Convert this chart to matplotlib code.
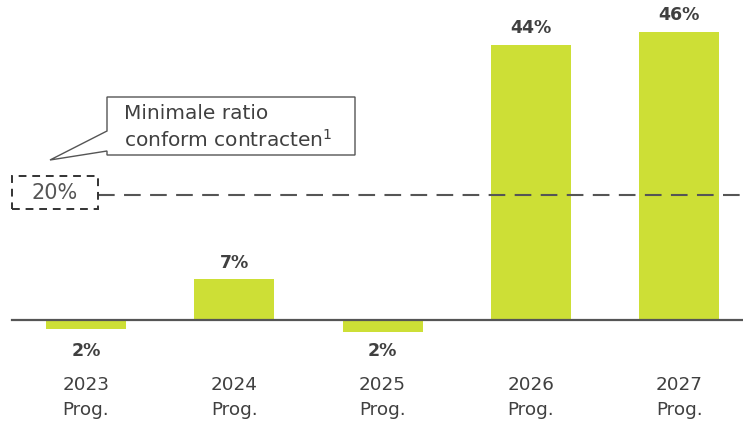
import matplotlib
matplotlib.use("Agg")
import matplotlib.pyplot as plt
from matplotlib.patches import Polygon, Rectangle

plt.rcParams['font.family'] = ['DejaVu Sans']

# Datos
jaren = ["2023\nProg.", "2024\nProg.", "2025\nProg.", "2026\nProg.", "2027\nProg."]
ratio = [-1.4, 6.5, -1.9, 44.0, 46.1]
labels = ["2%", "7%", "2%", "44%", "46%"]
minimum = 20

W, H = 743, 423
GROEN = "#CDDF36"
GRIJS = "#404040"

fig = plt.figure(figsize=(W / 100, H / 100), dpi=100)
ax = fig.add_axes([0, 0, 1, 1])
ax.set_xlim(-0.58, 4.43)
ax.set_ylim(-16.5, 51.2)
ax.axis("off")

x = range(len(ratio))
ax.bar(x, ratio, width=0.54, color=GROEN, zorder=2)

# Baseline
ax.plot([-0.5, 4.43], [0, 0], color="#555555", lw=1.6, zorder=3)

# Value labels
for xi, v, lab in zip(x, ratio, labels):
    if v >= 0:
        ax.text(xi, v + 1.2, lab, ha="center", va="bottom", fontsize=12.5,
                fontweight="bold", color=GRIJS)
    else:
        ax.text(xi, -5.0, lab, ha="center", va="center", fontsize=12.5,
                fontweight="bold", color=GRIJS)

# Category labels
for xi, lab in zip(x, jaren):
    ax.text(xi, -12.4, lab, ha="center", va="center", fontsize=13.2,
            color=GRIJS, linespacing=1.5)

# Dashed minimum line
ax.plot([0.08, 4.43], [minimum, minimum], color="#555555", lw=1.5,
        dashes=(8, 4.5), zorder=3)

def px(xp, yp):
    return (xp / W, 1 - yp / H)

# Dashed box with 20%
x0, y0 = px(12, 209)
x1, y1 = px(98, 176)
fig.patches.append(Rectangle((x0, y0), x1 - x0, y1 - y0, transform=fig.transFigure,
                             fill=False, ec="#333333", lw=1.4, ls=(0, (4, 3))))
fig.text(*px(55, 193), f"{minimum}%", ha="center", va="center", fontsize=15,
         color="#555555")

# Callout
pts = [px(107, 97), px(355, 97), px(355, 155), px(107, 155), px(107, 151),
       px(50, 160), px(107, 131)]
fig.patches.append(Polygon(pts, closed=True, transform=fig.transFigure,
                           fill=True, fc="white", ec="#555555", lw=1.0))
fig.text(*px(124, 113), "Minimale ratio", ha="left",
         va="center", fontsize=14.5, color=GRIJS)
fig.text(*px(124, 140), "conform contracten$^{1}$", ha="left",
         va="center", fontsize=14.5, color=GRIJS)

fig.savefig("out.png", dpi=100)
